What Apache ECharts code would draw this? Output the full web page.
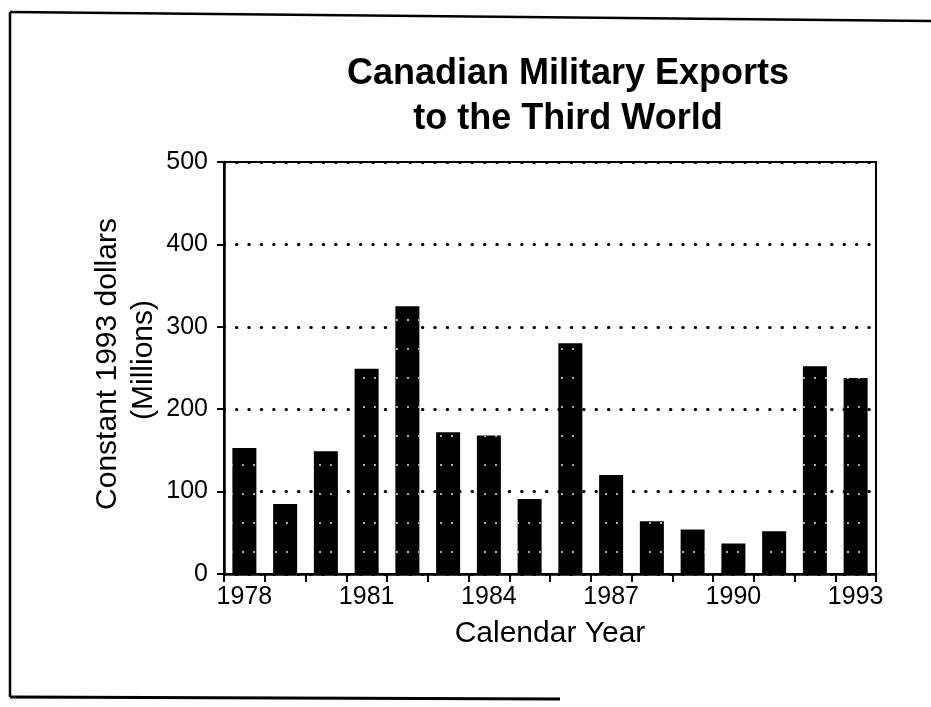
<!DOCTYPE html>
<html>
<head>
<meta charset="utf-8">
<script src="https://cdn.jsdelivr.net/npm/echarts@6/dist/echarts.min.js"></script>
<style>
html,body{margin:0;padding:0;background:#fff;}
#chart{width:931px;height:707px;}
</style>
</head>
<body>
<div id="chart"></div>
<script>
var years = ['1978','1979','1980','1981','1982','1983','1984','1985','1986','1987','1988','1989','1990','1991','1992','1993'];
var exportValues = [153, 85, 149, 249, 325, 172, 168, 91, 280, 120, 64, 54, 37, 52, 252, 238];
var titleLines = ['Canadian Military Exports', 'to the Third World'];
var yNameLines = ['Constant 1993 dollars', '(Millions)'];
var xName = 'Calendar Year';

var FONT = '"Liberation Sans", Arial, Helvetica, sans-serif';
var chart = echarts.init(document.getElementById('chart'), null, {renderer: 'canvas'});
var option = {
  backgroundColor: '#fff',
  animation: false,
  title: {
    text: titleLines.join('\n'),
    left: 563,
    top: 47,
    textAlign: 'center',
    textStyle: {fontFamily: FONT, fontSize: 36, fontWeight: 'bold', color: '#000', lineHeight: 45}
  },
  grid: {
    left: 224, right: 55, top: 162, bottom: 133,
    show: true, borderColor: '#000', borderWidth: 2, backgroundColor: 'transparent'
  },
  xAxis: {
    type: 'category',
    data: years,
    boundaryGap: true,
    name: xName,
    nameLocation: 'middle',
    nameGap: 45,
    nameTextStyle: {fontFamily: FONT, fontSize: 30, color: '#000'},
    axisLine: {show: true, lineStyle: {color: '#000', width: 2.5}},
    axisTick: {show: true, interval: 0, alignWithLabel: false, length: 8, lineStyle: {color: '#000', width: 2}},
    axisLabel: {interval: 2, margin: 11, fontFamily: FONT, fontSize: 25, color: '#000'},
    splitLine: {show: false}
  },
  yAxis: {
    type: 'value',
    min: 0, max: 500, interval: 100,
    axisLine: {show: true, lineStyle: {color: '#000', width: 2.5}},
    axisTick: {show: true, length: 7, lineStyle: {color: '#000', width: 2}},
    axisLabel: {margin: 16, fontFamily: FONT, fontSize: 25, color: '#000'},
    splitLine: {show: true, lineStyle: {color: '#000', width: 3, type: [0.5, 11.9], cap: 'round'}}
  },
  graphic: [
    {type: 'text', x: 108, y: 364, rotation: Math.PI / 2,
     style: {text: yNameLines[0], font: '30px ' + FONT, fill: '#000', textAlign: 'center', textVerticalAlign: 'middle'}},
    {type: 'text', x: 144, y: 360, rotation: Math.PI / 2,
     style: {text: yNameLines[1], font: '30px ' + FONT, fill: '#000', textAlign: 'center', textVerticalAlign: 'middle'}},
    {type: 'line', shape: {x1: 10, y1: 12, x2: 931, y2: 21}, style: {stroke: '#000', lineWidth: 2.5}},
    {type: 'line', shape: {x1: 10, y1: 12, x2: 10, y2: 697}, style: {stroke: '#000', lineWidth: 2.5}},
    {type: 'line', shape: {x1: 10, y1: 697, x2: 560, y2: 699}, style: {stroke: '#000', lineWidth: 3}}
  ],
  series: [{
    type: 'bar',
    data: exportValues,
    barWidth: 24,
    itemStyle: {
      color: '#000',
      decal: {symbol: 'circle', symbolSize: 1, color: 'rgba(255,255,255,0.9)', dashArrayX: [2, 9], dashArrayY: [2, 27], rotation: 0}
    }
  }]
};
chart.setOption(option);
</script>
</body>
</html>
